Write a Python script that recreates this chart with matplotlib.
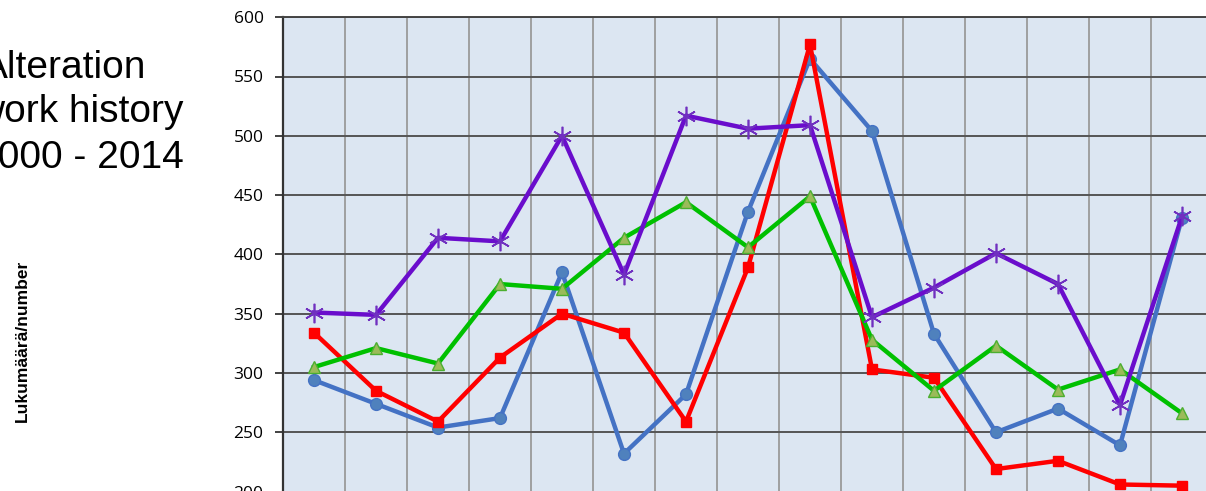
import numpy as np
import matplotlib
matplotlib.use("Agg")
import matplotlib.pyplot as plt

# Values
years = list(range(2000, 2015))
blue_vals = [294, 274, 254, 262, 385, 232, 282, 436, 565, 504, 333, 250, 270, 239, 431]
red_vals = [334, 285, 259, 313, 350, 334, 259, 389, 577, 303, 296, 219, 226, 206, 205]
green_vals = [305, 321, 308, 375, 371, 414, 444, 406, 449, 328, 285, 323, 286, 303, 266]
purple_vals = [351, 349, 414, 411, 500, 383, 517, 506, 509, 347, 372, 401, 375, 273, 432]
y_ticks = [200, 250, 300, 350, 400, 450, 500, 550, 600]
title_lines = ["Alteration", "work history", "2000 - 2014"]

W, H = 1206, 491
fig = plt.figure(figsize=(W / 100, H / 100), dpi=100)
# the plot runs off the right and bottom edges in the reference
ax = fig.add_axes([283 / W, -0.6 / H, 930 / W, 474.4 / H])
ax.set_facecolor("#dce6f2")

x = np.arange(len(years))
asterisk = (6, 2, 0)

ax.plot(x, blue_vals, color="#4472c4", lw=3.2, marker="o", ms=8.5,
        mfc="#4f81bd", mec="#4472c4", zorder=3)
ax.plot(x, red_vals, color="#ff0000", lw=3.2, marker="s", ms=6.5,
        mfc="#ff0000", mec="#ff0000", zorder=4)
ax.plot(x, green_vals, color="#00c000", lw=3.2, marker="^", ms=9,
        mfc="#9bbb59", mec="#4caf30", zorder=5)
ax.plot(x, purple_vals, color="#6a0dcc", lw=3.2, marker=asterisk, ms=14,
        mec="#7030c0", mew=1.2, zorder=6)

ax.set_xlim(-0.5, len(years) - 0.5)
ax.set_ylim(200, 600)
ax.set_yticks(y_ticks)
ax.set_yticklabels([str(v) for v in y_ticks], fontsize=12.5, family="Open Sans")
ax.set_xticks(np.arange(len(years) + 1) - 0.5, minor=True)
ax.set_xticks([])
ax.tick_params(axis="y", length=6, width=1.3, color="#333333", pad=8)
ax.tick_params(axis="x", which="minor", length=0)

ax.grid(axis="y", color="#555555", lw=1.4, zorder=1)
ax.grid(axis="x", which="minor", color="#9a9a9a", lw=1.3, zorder=1)
ax.set_axisbelow(True)

for side in ["right", "bottom"]:
    ax.spines[side].set_visible(False)
ax.spines["left"].set_color("#333333")
ax.spines["left"].set_linewidth(1.6)
ax.spines["top"].set_color("#444444")
ax.spines["top"].set_linewidth(1.4)

for line, base, left in zip(title_lines, [78, 122, 168], [-18, -24, -24]):
    fig.text(left / W, 1 - base / H, line, fontsize=28, family="Liberation Sans",
             ha="left", va="baseline")
fig.text(22 / W, 1 - 341 / H, "Lukumäärä/number", rotation=90, fontsize=12.5,
         fontweight="bold", family="Liberation Sans", ha="center", va="center")

fig.savefig("out.png", dpi=100)
